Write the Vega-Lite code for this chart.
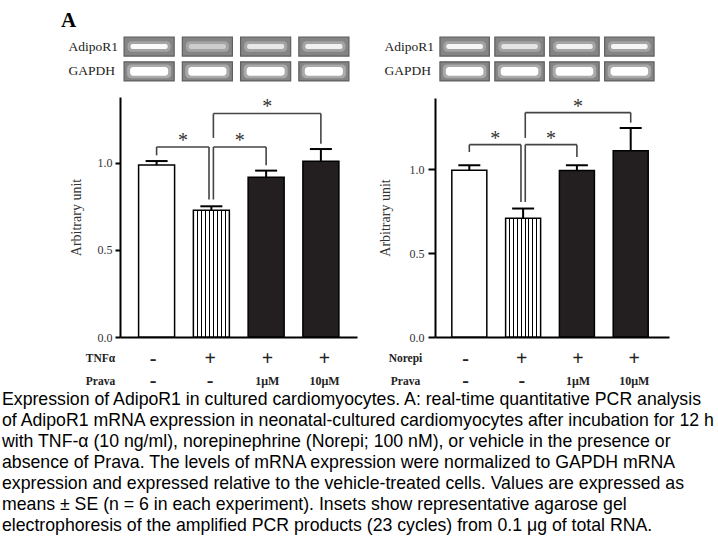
{
  "$schema": "https://vega.github.io/schema/vega-lite/v6.json",
  "background": "white",
  "padding": {"left": 2, "top": 10, "right": 2, "bottom": 2},
  "config": {
    "view": {"stroke": null},
    "axis": {"grid": false, "labelFont": "Liberation Serif", "titleFont": "Liberation Serif", "titleFontWeight": "normal", "labelColor": "#333", "titleColor": "#333"}
  },
  "title": {
    "text": [
      "Expression of AdipoR1 in cultured cardiomyocytes. A: real-time quantitative PCR analysis",
      "of AdipoR1 mRNA expression in neonatal-cultured cardiomyocytes after incubation for 12 h",
      "with TNF-α  (10 ng/ml), norepinephrine (Norepi; 100 nM), or vehicle in the presence or",
      "absence of Prava. The levels of mRNA expression were normalized to GAPDH mRNA",
      "expression and expressed relative to the vehicle-treated cells. Values are expressed as",
      "means  ± SE (n = 6 in each experiment). Insets show representative agarose gel",
      "electrophoresis of the amplified PCR products (23 cycles) from 0.1 μg of total RNA."
    ],
    "orient": "bottom", "anchor": "start", "frame": "group",
    "font": "Liberation Sans", "fontSize": 17.7, "fontWeight": "normal", "lineHeight": 21, "color": "black",
    "offset": 0, "dx": -118
  },
  "datasets": {
    "gelL": [
      {"row": "AdipoR1", "lane": 1, "intensity": 0.95},
      {"row": "AdipoR1", "lane": 2, "intensity": 0.45},
      {"row": "AdipoR1", "lane": 3, "intensity": 0.75},
      {"row": "AdipoR1", "lane": 4, "intensity": 0.85},
      {"row": "GAPDH", "lane": 1, "intensity": 1},
      {"row": "GAPDH", "lane": 2, "intensity": 1},
      {"row": "GAPDH", "lane": 3, "intensity": 1},
      {"row": "GAPDH", "lane": 4, "intensity": 1}
    ],
    "gelR": [
      {"row": "AdipoR1", "lane": 1, "intensity": 0.9},
      {"row": "AdipoR1", "lane": 2, "intensity": 0.7},
      {"row": "AdipoR1", "lane": 3, "intensity": 0.85},
      {"row": "AdipoR1", "lane": 4, "intensity": 0.9},
      {"row": "GAPDH", "lane": 1, "intensity": 1},
      {"row": "GAPDH", "lane": 2, "intensity": 1},
      {"row": "GAPDH", "lane": 3, "intensity": 1},
      {"row": "GAPDH", "lane": 4, "intensity": 1}
    ],
    "barsL": [
      {"pos": 1, "kind": "vehicle", "value": 0.988, "upper": 1.011},
      {"pos": 2, "kind": "stimulus", "value": 0.728, "upper": 0.751},
      {"pos": 3, "kind": "prava", "value": 0.918, "upper": 0.956},
      {"pos": 4, "kind": "prava", "value": 1.01, "upper": 1.08}
    ],
    "barsR": [
      {"pos": 1, "kind": "vehicle", "value": 0.994, "upper": 1.024},
      {"pos": 2, "kind": "stimulus", "value": 0.708, "upper": 0.766},
      {"pos": 3, "kind": "prava", "value": 0.992, "upper": 1.024},
      {"pos": 4, "kind": "prava", "value": 1.111, "upper": 1.246}
    ],
    "bracketsL": [
      {"x1": 1, "x2": 1.957, "y1": 1.092, "y2": 1.092},
      {"x1": 1, "x2": 1, "y1": 1.092, "y2": 1.044},
      {"x1": 1.957, "x2": 1.957, "y1": 1.092, "y2": 0.79},
      {"x1": 2.037, "x2": 3.0, "y1": 1.092, "y2": 1.092},
      {"x1": 2.037, "x2": 2.037, "y1": 1.092, "y2": 0.79},
      {"x1": 3.0, "x2": 3.0, "y1": 1.092, "y2": 0.987},
      {"x1": 2.037, "x2": 4.0, "y1": 1.284, "y2": 1.284},
      {"x1": 2.037, "x2": 2.037, "y1": 1.284, "y2": 1.144},
      {"x1": 4.0, "x2": 4.0, "y1": 1.284, "y2": 1.111}
    ],
    "bracketsR": [
      {"x1": 1, "x2": 1.96, "y1": 1.147, "y2": 1.147},
      {"x1": 1, "x2": 1, "y1": 1.147, "y2": 1.103},
      {"x1": 1.96, "x2": 1.96, "y1": 1.147, "y2": 0.805},
      {"x1": 2.04, "x2": 3.0, "y1": 1.147, "y2": 1.147},
      {"x1": 2.04, "x2": 2.04, "y1": 1.147, "y2": 0.805},
      {"x1": 3.0, "x2": 3.0, "y1": 1.147, "y2": 1.073},
      {"x1": 2.04, "x2": 4.0, "y1": 1.338, "y2": 1.338},
      {"x1": 2.04, "x2": 2.04, "y1": 1.338, "y2": 1.187},
      {"x1": 4.0, "x2": 4.0, "y1": 1.338, "y2": 1.278}
    ],
    "starsL": [
      {"x": 1.48, "y": 1.149, "label": "*"},
      {"x": 2.52, "y": 1.149, "label": "*"},
      {"x": 3.02, "y": 1.345, "label": "*"}
    ],
    "starsR": [
      {"x": 1.48, "y": 1.202, "label": "*"},
      {"x": 2.52, "y": 1.202, "label": "*"},
      {"x": 3.02, "y": 1.398, "label": "*"}
    ],
    "tableL": [
      {"row": "TNFα", "pos": 1, "label": "-"},
      {"row": "TNFα", "pos": 2, "label": "+"},
      {"row": "TNFα", "pos": 3, "label": "+"},
      {"row": "TNFα", "pos": 4, "label": "+"},
      {"row": "Prava", "pos": 1, "label": "-"},
      {"row": "Prava", "pos": 2, "label": "-"},
      {"row": "Prava", "pos": 3, "label": "1μM"},
      {"row": "Prava", "pos": 4, "label": "10μM"}
    ],
    "tableR": [
      {"row": "Norepi", "pos": 1, "label": "-"},
      {"row": "Norepi", "pos": 2, "label": "+"},
      {"row": "Norepi", "pos": 3, "label": "+"},
      {"row": "Norepi", "pos": 4, "label": "+"},
      {"row": "Prava", "pos": 1, "label": "-"},
      {"row": "Prava", "pos": 2, "label": "-"},
      {"row": "Prava", "pos": 3, "label": "1μM"},
      {"row": "Prava", "pos": 4, "label": "10μM"}
    ]
  },
  "vconcat": [
    {
      "title": {"text": "A", "anchor": "start", "frame": "group", "font": "Liberation Serif", "fontSize": 21, "fontWeight": "bold", "color": "black", "dx": -59, "offset": 5},
      "spacing": 21,
      "hconcat": [
        {
          "spacing": 5,
          "vconcat": [
            {
              "width": 233, "height": 54,
              "data": {"name": "gelL"},
              "encoding": {
                "x": {"field": "lane", "type": "ordinal", "scale": {"paddingInner": 0.14, "paddingOuter": 0.07}, "axis": null},
                "y": {"field": "row", "type": "nominal", "sort": ["AdipoR1", "GAPDH"], "scale": {"paddingInner": 0.23, "paddingOuter": 0.2036, "align": 0},
                  "axis": {"title": null, "domain": false, "ticks": false, "tickSize": 0, "labelAlign": "left", "labelPadding": 52, "labelFontSize": 13.5, "labelColor": "#222"}}
              },
              "layer": [
                {"mark": {"type": "rect", "fill": "#858585", "stroke": "#5e5e5e", "strokeWidth": 1.2}},
                {"transform": [{"filter": "datum.row == 'AdipoR1'"}], "mark": {"type": "rect", "fill": "#e0e0e0", "opacity": 0.35, "width": {"band": 0.86}, "height": {"band": 0.55}, "cornerRadius": 4}},
                {"transform": [{"filter": "datum.row == 'AdipoR1'"}], "mark": {"type": "rect", "fill": "white", "width": {"band": 0.74}, "height": {"band": 0.26}, "cornerRadius": 2},
                  "encoding": {"opacity": {"field": "intensity", "type": "quantitative", "scale": null}}},
                {"transform": [{"filter": "datum.row == 'GAPDH'"}], "mark": {"type": "rect", "fill": "#e0e0e0", "opacity": 0.4, "width": {"band": 0.88}, "height": {"band": 0.72}, "cornerRadius": 4}},
                {"transform": [{"filter": "datum.row == 'GAPDH'"}], "mark": {"type": "rect", "fill": "white", "width": {"band": 0.76}, "height": {"band": 0.46}, "cornerRadius": 3},
                  "encoding": {"opacity": {"field": "intensity", "type": "quantitative", "scale": null}}}
              ]
            },
            {
              "width": 237, "height": 240,
              "layer": [
                {
                  "data": {"name": "barsL"},
                  "transform": [{"filter": "datum.kind == 'vehicle'"}],
                  "mark": {"type": "bar", "orient": "vertical", "size": 36, "fill": "white", "stroke": "black", "strokeWidth": 1.5},
                  "encoding": {
                    "x": {"field": "pos", "type": "quantitative", "scale": {"domain": [0.423, 4.568], "nice": false, "zero": false},
                      "axis": {"title": null, "labels": false, "ticks": false, "tickSize": 0, "labelPadding": 0, "domain": true, "domainColor": "black", "domainWidth": 2}},
                    "y": {"field": "value", "type": "quantitative", "scale": {"domain": [0, 1.379], "nice": false},
                      "axis": {"title": "Arbitrary unit", "titleFontSize": 14, "titlePadding": 14, "values": [0, 0.5, 1], "format": ".1f", "labelFontSize": 12, "labelPadding": 3, "tickSize": 5, "tickWidth": 2, "tickColor": "black", "domainColor": "black", "domainWidth": 2}}
                  }
                },
                {
                  "data": {"name": "barsL"},
                  "transform": [{"filter": "datum.kind == 'stimulus'"}],
                  "mark": {"type": "bar", "orient": "vertical", "size": 36, "stroke": "black", "strokeWidth": 1.5,
                    "fill": {"gradient": "linear", "x1": 0, "y1": 0, "x2": 1, "y2": 0, "stops": [
                      {"offset": 0, "color": "white"},
                      {"offset": 0.096, "color": "white"}, {"offset": 0.096, "color": "black"}, {"offset": 0.126, "color": "black"}, {"offset": 0.126, "color": "white"},
                      {"offset": 0.207, "color": "white"}, {"offset": 0.207, "color": "black"}, {"offset": 0.237, "color": "black"}, {"offset": 0.237, "color": "white"},
                      {"offset": 0.318, "color": "white"}, {"offset": 0.318, "color": "black"}, {"offset": 0.348, "color": "black"}, {"offset": 0.348, "color": "white"},
                      {"offset": 0.429, "color": "white"}, {"offset": 0.429, "color": "black"}, {"offset": 0.459, "color": "black"}, {"offset": 0.459, "color": "white"},
                      {"offset": 0.541, "color": "white"}, {"offset": 0.541, "color": "black"}, {"offset": 0.571, "color": "black"}, {"offset": 0.571, "color": "white"},
                      {"offset": 0.652, "color": "white"}, {"offset": 0.652, "color": "black"}, {"offset": 0.682, "color": "black"}, {"offset": 0.682, "color": "white"},
                      {"offset": 0.763, "color": "white"}, {"offset": 0.763, "color": "black"}, {"offset": 0.793, "color": "black"}, {"offset": 0.793, "color": "white"},
                      {"offset": 0.874, "color": "white"}, {"offset": 0.874, "color": "black"}, {"offset": 0.904, "color": "black"}, {"offset": 0.904, "color": "white"},
                      {"offset": 1, "color": "white"}]}},
                  "encoding": {
                    "x": {"field": "pos", "type": "quantitative"},
                    "y": {"field": "value", "type": "quantitative"}
                  }
                },
                {
                  "data": {"name": "barsL"},
                  "transform": [{"filter": "datum.kind == 'prava'"}],
                  "mark": {"type": "bar", "orient": "vertical", "size": 36, "fill": "#231f20", "stroke": "black", "strokeWidth": 1.5},
                  "encoding": {
                    "x": {"field": "pos", "type": "quantitative"},
                    "y": {"field": "value", "type": "quantitative"}
                  }
                },
                {
                  "data": {"name": "barsL"},
                  "mark": {"type": "rule", "stroke": "black", "strokeWidth": 2},
                  "encoding": {
                    "x": {"field": "pos", "type": "quantitative"},
                    "y": {"field": "value", "type": "quantitative"},
                    "y2": {"field": "upper"}
                  }
                },
                {
                  "data": {"name": "barsL"},
                  "mark": {"type": "rule", "stroke": "black", "strokeWidth": 2, "xOffset": -11, "x2Offset": 11},
                  "encoding": {
                    "x": {"field": "pos", "type": "quantitative"},
                    "x2": {"field": "pos"},
                    "y": {"field": "upper", "type": "quantitative"}
                  }
                },
                {
                  "data": {"name": "bracketsL"},
                  "mark": {"type": "rule", "stroke": "#444", "strokeWidth": 1.6},
                  "encoding": {
                    "x": {"field": "x1", "type": "quantitative"},
                    "x2": {"field": "x2"},
                    "y": {"field": "y1", "type": "quantitative"},
                    "y2": {"field": "y2"}
                  }
                },
                {
                  "data": {"name": "starsL"},
                  "mark": {"type": "text", "font": "Liberation Serif", "fontSize": 20, "color": "#333", "baseline": "alphabetic", "dy": 10},
                  "encoding": {
                    "x": {"field": "x", "type": "quantitative"},
                    "y": {"field": "y", "type": "quantitative"},
                    "text": {"field": "label"}
                  }
                }
              ]
            },
            {
              "width": 237, "height": 26,
              "data": {"name": "tableL"},
              "encoding": {
                "x": {"field": "pos", "type": "quantitative", "scale": {"domain": [0.423, 4.568], "nice": false, "zero": false}, "axis": null},
                "y": {"field": "row", "type": "nominal", "sort": ["TNFα", "Prava"], "scale": {"type": "point", "padding": 0.08},
                  "axis": {"title": null, "domain": false, "ticks": false, "tickSize": 0, "labelAlign": "center", "labelPadding": 20, "labelFontSize": 11.5, "labelFontWeight": "bold", "labelColor": "#222"}},
                "text": {"field": "label"}
              },
              "layer": [
                {"transform": [{"filter": "datum.label == '-' || datum.label == '+'"}], "mark": {"type": "text", "font": "Liberation Serif", "fontSize": 20, "fontWeight": "bold", "color": "#222"}},
                {"transform": [{"filter": "datum.label != '-' && datum.label != '+'"}], "mark": {"type": "text", "font": "Liberation Serif", "fontSize": 12, "fontWeight": "bold", "color": "#222"}}
              ]
            }
          ]
        },
        {
          "spacing": 5,
          "vconcat": [
            {
              "width": 224, "height": 54,
              "data": {"name": "gelR"},
              "encoding": {
                "x": {"field": "lane", "type": "ordinal", "scale": {"paddingInner": 0.1, "paddingOuter": 0.09}, "axis": null},
                "y": {"field": "row", "type": "nominal", "sort": ["AdipoR1", "GAPDH"], "scale": {"paddingInner": 0.23, "paddingOuter": 0.2036, "align": 0},
                  "axis": {"title": null, "domain": false, "ticks": false, "tickSize": 0, "labelAlign": "left", "labelPadding": 51, "labelFontSize": 13.5, "labelColor": "#222"}}
              },
              "layer": [
                {"mark": {"type": "rect", "fill": "#858585", "stroke": "#5e5e5e", "strokeWidth": 1.2}},
                {"transform": [{"filter": "datum.row == 'AdipoR1'"}], "mark": {"type": "rect", "fill": "#e0e0e0", "opacity": 0.35, "width": {"band": 0.86}, "height": {"band": 0.55}, "cornerRadius": 4}},
                {"transform": [{"filter": "datum.row == 'AdipoR1'"}], "mark": {"type": "rect", "fill": "white", "width": {"band": 0.74}, "height": {"band": 0.26}, "cornerRadius": 2},
                  "encoding": {"opacity": {"field": "intensity", "type": "quantitative", "scale": null}}},
                {"transform": [{"filter": "datum.row == 'GAPDH'"}], "mark": {"type": "rect", "fill": "#e0e0e0", "opacity": 0.4, "width": {"band": 0.88}, "height": {"band": 0.72}, "cornerRadius": 4}},
                {"transform": [{"filter": "datum.row == 'GAPDH'"}], "mark": {"type": "rect", "fill": "white", "width": {"band": 0.76}, "height": {"band": 0.46}, "cornerRadius": 3},
                  "encoding": {"opacity": {"field": "intensity", "type": "quantitative", "scale": null}}}
              ]
            },
            {
              "width": 234, "height": 239,
              "layer": [
                {
                  "data": {"name": "barsR"},
                  "transform": [{"filter": "datum.kind == 'vehicle'"}],
                  "mark": {"type": "bar", "orient": "vertical", "size": 35, "fill": "white", "stroke": "black", "strokeWidth": 1.5},
                  "encoding": {
                    "x": {"field": "pos", "type": "quantitative", "scale": {"domain": [0.455, 4.619], "nice": false, "zero": false},
                      "axis": {"title": null, "labels": false, "ticks": false, "tickSize": 0, "labelPadding": 0, "domain": true, "domainColor": "black", "domainWidth": 2}},
                    "y": {"field": "value", "type": "quantitative", "scale": {"domain": [0, 1.425], "nice": false},
                      "axis": {"title": "Arbitrary unit", "titleFontSize": 14, "titlePadding": 17, "values": [0, 0.5, 1], "format": ".1f", "labelFontSize": 12, "labelPadding": 4, "tickSize": 7, "tickWidth": 2, "tickColor": "black", "domainColor": "black", "domainWidth": 2}}
                  }
                },
                {
                  "data": {"name": "barsR"},
                  "transform": [{"filter": "datum.kind == 'stimulus'"}],
                  "mark": {"type": "bar", "orient": "vertical", "size": 35, "stroke": "black", "strokeWidth": 1.5,
                    "fill": {"gradient": "linear", "x1": 0, "y1": 0, "x2": 1, "y2": 0, "stops": [
                      {"offset": 0, "color": "white"},
                      {"offset": 0.096, "color": "white"}, {"offset": 0.096, "color": "black"}, {"offset": 0.126, "color": "black"}, {"offset": 0.126, "color": "white"},
                      {"offset": 0.207, "color": "white"}, {"offset": 0.207, "color": "black"}, {"offset": 0.237, "color": "black"}, {"offset": 0.237, "color": "white"},
                      {"offset": 0.318, "color": "white"}, {"offset": 0.318, "color": "black"}, {"offset": 0.348, "color": "black"}, {"offset": 0.348, "color": "white"},
                      {"offset": 0.429, "color": "white"}, {"offset": 0.429, "color": "black"}, {"offset": 0.459, "color": "black"}, {"offset": 0.459, "color": "white"},
                      {"offset": 0.541, "color": "white"}, {"offset": 0.541, "color": "black"}, {"offset": 0.571, "color": "black"}, {"offset": 0.571, "color": "white"},
                      {"offset": 0.652, "color": "white"}, {"offset": 0.652, "color": "black"}, {"offset": 0.682, "color": "black"}, {"offset": 0.682, "color": "white"},
                      {"offset": 0.763, "color": "white"}, {"offset": 0.763, "color": "black"}, {"offset": 0.793, "color": "black"}, {"offset": 0.793, "color": "white"},
                      {"offset": 0.874, "color": "white"}, {"offset": 0.874, "color": "black"}, {"offset": 0.904, "color": "black"}, {"offset": 0.904, "color": "white"},
                      {"offset": 1, "color": "white"}]}},
                  "encoding": {
                    "x": {"field": "pos", "type": "quantitative"},
                    "y": {"field": "value", "type": "quantitative"}
                  }
                },
                {
                  "data": {"name": "barsR"},
                  "transform": [{"filter": "datum.kind == 'prava'"}],
                  "mark": {"type": "bar", "orient": "vertical", "size": 35, "fill": "#231f20", "stroke": "black", "strokeWidth": 1.5},
                  "encoding": {
                    "x": {"field": "pos", "type": "quantitative"},
                    "y": {"field": "value", "type": "quantitative"}
                  }
                },
                {
                  "data": {"name": "barsR"},
                  "mark": {"type": "rule", "stroke": "black", "strokeWidth": 2},
                  "encoding": {
                    "x": {"field": "pos", "type": "quantitative"},
                    "y": {"field": "value", "type": "quantitative"},
                    "y2": {"field": "upper"}
                  }
                },
                {
                  "data": {"name": "barsR"},
                  "mark": {"type": "rule", "stroke": "black", "strokeWidth": 2, "xOffset": -11, "x2Offset": 11},
                  "encoding": {
                    "x": {"field": "pos", "type": "quantitative"},
                    "x2": {"field": "pos"},
                    "y": {"field": "upper", "type": "quantitative"}
                  }
                },
                {
                  "data": {"name": "bracketsR"},
                  "mark": {"type": "rule", "stroke": "#444", "strokeWidth": 1.6},
                  "encoding": {
                    "x": {"field": "x1", "type": "quantitative"},
                    "x2": {"field": "x2"},
                    "y": {"field": "y1", "type": "quantitative"},
                    "y2": {"field": "y2"}
                  }
                },
                {
                  "data": {"name": "starsR"},
                  "mark": {"type": "text", "font": "Liberation Serif", "fontSize": 20, "color": "#333", "baseline": "alphabetic", "dy": 10},
                  "encoding": {
                    "x": {"field": "x", "type": "quantitative"},
                    "y": {"field": "y", "type": "quantitative"},
                    "text": {"field": "label"}
                  }
                }
              ]
            },
            {
              "width": 234, "height": 26,
              "data": {"name": "tableR"},
              "encoding": {
                "x": {"field": "pos", "type": "quantitative", "scale": {"domain": [0.455, 4.619], "nice": false, "zero": false}, "axis": null},
                "y": {"field": "row", "type": "nominal", "sort": ["Norepi", "Prava"], "scale": {"type": "point", "padding": 0.08},
                  "axis": {"title": null, "domain": false, "ticks": false, "tickSize": 0, "labelAlign": "center", "labelPadding": 30, "labelFontSize": 11.5, "labelFontWeight": "bold", "labelColor": "#222"}},
                "text": {"field": "label"}
              },
              "layer": [
                {"transform": [{"filter": "datum.label == '-' || datum.label == '+'"}], "mark": {"type": "text", "font": "Liberation Serif", "fontSize": 20, "fontWeight": "bold", "color": "#222"}},
                {"transform": [{"filter": "datum.label != '-' && datum.label != '+'"}], "mark": {"type": "text", "font": "Liberation Serif", "fontSize": 12, "fontWeight": "bold", "color": "#222"}}
              ]
            }
          ]
        }
      ]
    }
  ]
}
